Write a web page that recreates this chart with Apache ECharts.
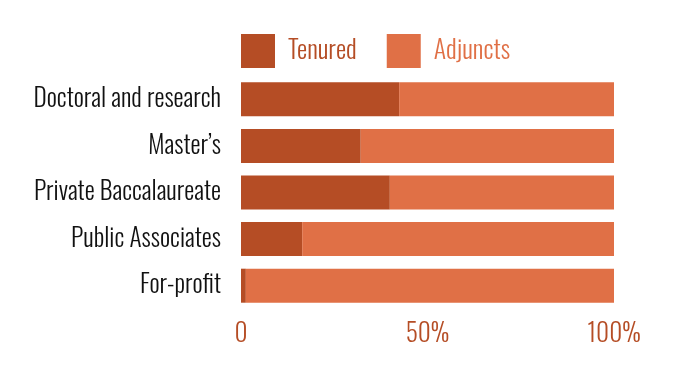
<!DOCTYPE html>
<html>
<head>
<meta charset="utf-8">
<script src="https://cdn.jsdelivr.net/npm/echarts@6/dist/echarts.min.js"></script>
<style>
html,body{margin:0;padding:0;background:#fff;}
#chart{width:677px;height:381px;}
</style>
</head>
<body>
<div id="chart"></div>
<script>
var categories = ["Doctoral and research", "Master\u2019s", "Private Baccalaureate", "Public Associates", "For-profit"];
var tenured = [42.4, 32.1, 39.9, 16.4, 1.3];
var adjuncts = [57.6, 67.9, 60.1, 83.6, 98.7];
var xTicks = {0: "0", 50: "50%", 100: "100%"};

var FONT = "Oswald, 'Roboto Condensed', sans-serif";
var FW = 300;
var FS = 25.3;
var C_TEN = "#B54D25";
var C_ADJ = "#E07046";

var chart = echarts.init(document.getElementById('chart'), null, {renderer: 'canvas'});
chart.setOption({
  animation: false,
  backgroundColor: '#ffffff',
  textStyle: {fontFamily: FONT, fontWeight: FW},
  legend: {
    left: 241, top: 32, padding: 0,
    itemWidth: 34, itemHeight: 34, itemGap: 30,
    icon: 'rect',
    data: [
      {name: 'Tenured', textStyle: {color: C_TEN}},
      {name: 'Adjuncts', textStyle: {color: C_ADJ}}
    ],
    textStyle: {fontFamily: FONT, fontWeight: FW, fontSize: 25.8, lineHeight: 32, padding: [6, 0, 0, 8]}
  },
  grid: {left: 241, right: 63, top: 76, height: 233, containLabel: false, outerBoundsMode: 'none'},
  xAxis: {
    type: 'value', min: 0, max: 100, interval: 50,
    axisLine: {show: false}, axisTick: {show: false}, splitLine: {show: false},
    axisLabel: {
      color: C_TEN, fontFamily: FONT, fontWeight: FW, fontSize: FS, margin: 13,
      formatter: function (v) { return xTicks[v] !== undefined ? xTicks[v] : ''; }
    }
  },
  yAxis: {
    type: 'category', data: categories, inverse: true,
    axisLine: {show: false}, axisTick: {show: false},
    axisLabel: {color: '#111111', fontFamily: FONT, fontWeight: FW, fontSize: FS, margin: 20}
  },
  series: [
    {name: 'Tenured', type: 'bar', stack: 'total', data: tenured, barCategoryGap: '27%',
     itemStyle: {color: C_TEN}},
    {name: 'Adjuncts', type: 'bar', stack: 'total', data: adjuncts, barCategoryGap: '27%',
     itemStyle: {color: C_ADJ}}
  ]
});
</script>
</body>
</html>
